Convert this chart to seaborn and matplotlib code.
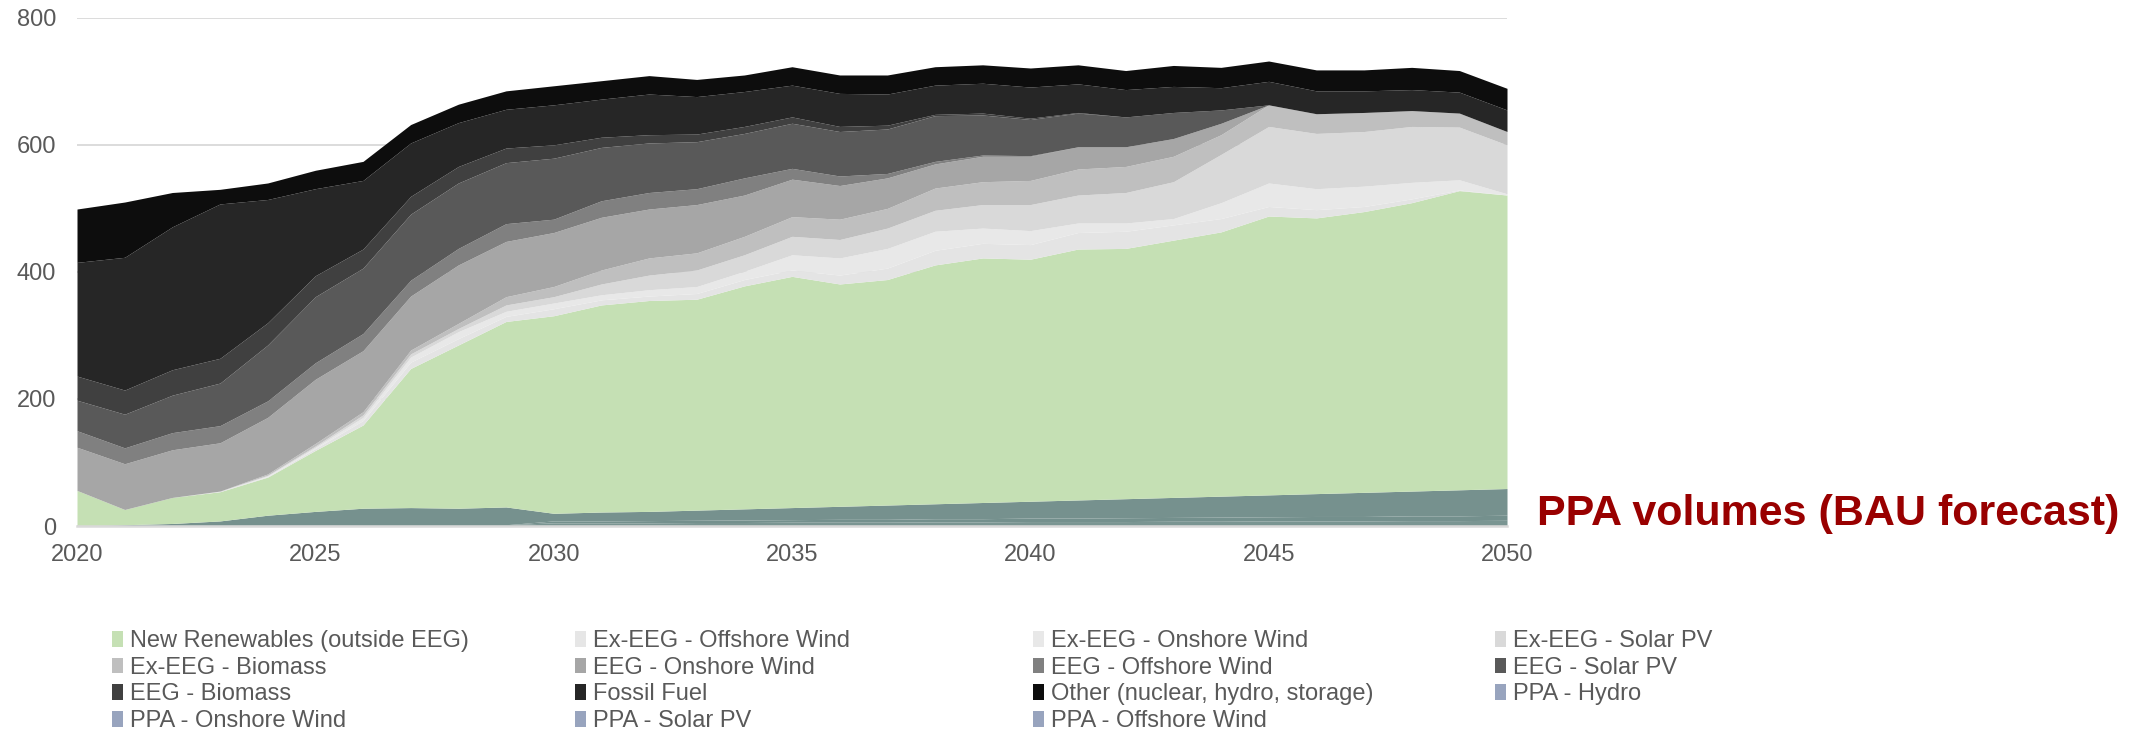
import matplotlib
matplotlib.use("Agg")
import matplotlib.pyplot as plt
from matplotlib.patches import Patch
import seaborn as sns

years = list(range(2020, 2051))

# TWh per year (bottom of the stack first)
ppa_hydro = [0, 0.5, 1, 1, 1.5, 1.5, 2, 2, 2, 2, 2, 2, 2, 2, 2, 2, 2, 2, 2, 2, 2, 2, 2, 2, 2, 2, 2, 2, 2, 2, 2]
ppa_solar = [0, 0, 0, 0, 0, 0, 0, 0, 0, 0, 3, 3, 3, 3.5, 3.5, 4, 4, 4, 4.5, 4.5, 5, 5, 5, 5.5, 5.5, 6, 6, 6, 6.5, 6.5, 7]
ppa_offshore = [0, 0, 0, 0, 0, 0, 0, 0, 0, 0, 3, 3, 3.5, 3.5, 4, 4, 4.5, 4.5, 5, 5, 5.5, 5.5, 6, 6, 6.5, 6.5, 7, 7, 7.5, 7.5, 8]
ppa_onshore = [0, 1.5, 3, 7, 15.5, 21.5, 26, 27, 26, 28, 12, 14, 14.5, 16, 17.5, 19, 20.5, 22.5, 23.5, 25.5,
               26.5, 28.5, 30, 31.5, 33, 34.5, 36, 38, 39, 41, 42]
new_renewables = [56, 24, 41, 46, 60, 96, 131, 219, 257, 292, 311, 326, 332, 332, 351, 364, 350, 355, 376, 385,
                  381, 395, 394, 405, 416, 439, 434, 442, 454, 471, 462]
ex_offshore = [0, 0, 0, 1, 1, 3, 7, 10, 10, 8, 11, 8, 7, 9, 10, 10, 14, 18, 23, 23, 23, 26, 27, 24, 21, 15, 13, 8, 6, 1, 0]
ex_onshore = [0, 0, 0, 0, 1, 2, 5, 8, 11, 8, 9, 8, 10, 11, 13, 24, 27, 31, 30, 24, 22, 15, 13, 10, 25, 37, 33, 32, 26, 16, 2]
ex_solar = [0, 0, 0, 0, 1, 2, 4, 5, 5, 10, 10, 17, 23, 26, 26, 29, 29, 32, 33, 37, 41, 44, 48, 58, 76, 89, 87, 86, 88, 83, 77]
ex_biomass = [0, 0, 0, 0, 2, 4, 5, 6, 8, 13, 16, 22, 27, 27, 29, 31, 32, 31, 35, 36, 38, 41, 41, 40, 31, 34, 31, 30, 25, 22, 21]
eeg_onshore = [68, 72, 75, 76, 89, 101, 96, 85, 92, 87, 85, 83, 77, 76, 65, 59, 53, 48, 38, 40, 38, 35, 31, 28, 18,
               0, 0, 0, 0, 0, 0]
eeg_offshore = [26, 25, 27, 27, 26, 26, 27, 25, 26, 28, 21, 26, 26, 25, 27, 17, 15, 7, 4, 2, 1, 0, 0, 0, 0, 0, 0, 0, 0, 0, 0]
eeg_solar = [48, 53, 59, 67, 88, 104, 103, 104, 103, 96, 96, 84, 78, 74, 70, 71, 70, 70, 72, 63, 57, 53, 47, 41, 21,
             0, 0, 0, 0, 0, 0]
eeg_biomass = [38, 38, 40, 39, 35, 33, 30, 28, 26, 23, 21, 16, 13, 12, 11, 10, 8, 6, 2, 3, 2, 1, 0, 0, 0, 0, 0, 0, 0, 0, 0]
fossil = [179, 209, 225, 243, 194, 137, 108, 84, 69, 61, 63, 60, 64, 59, 55, 50, 52, 49, 46, 47, 49, 45, 43, 41, 35,
          37, 36, 34, 33, 33, 34]
other = [84, 87, 54, 23, 26, 29, 30, 29, 29, 29, 30, 29, 29, 27, 26, 29, 29, 30, 29, 29, 30, 30, 30, 33, 32, 32, 33,
         33, 35, 34, 34]

stack = [ppa_hydro, ppa_solar, ppa_offshore, ppa_onshore, new_renewables,
         ex_offshore, ex_onshore, ex_solar, ex_biomass,
         eeg_onshore, eeg_offshore, eeg_solar, eeg_biomass, fossil, other]
stack_colors = ["#78928F", "#7A9592", "#74908D", "#76918E", "#C5E0B4",
                "#E4E4E4", "#E8E8E8", "#D9D9D9", "#BFBFBF",
                "#A6A6A6", "#808080", "#595959", "#404040", "#262626", "#0D0D0D"]

# legend in the reference's row order
legend_labels = ["New Renewables (outside EEG)", "Ex-EEG - Offshore Wind", "Ex-EEG - Onshore Wind", "Ex-EEG - Solar PV",
                 "Ex-EEG - Biomass", "EEG - Onshore Wind", "EEG - Offshore Wind", "EEG - Solar PV",
                 "EEG - Biomass", "Fossil Fuel", "Other (nuclear, hydro, storage)", "PPA - Hydro",
                 "PPA - Onshore Wind", "PPA - Solar PV", "PPA - Offshore Wind"]
legend_colors = ["#C5E0B4", "#E6E6E6", "#E8E8E8", "#D9D9D9",
                 "#BFBFBF", "#A6A6A6", "#808080", "#595959",
                 "#404040", "#262626", "#0D0D0D", "#98A4BE",
                 "#98A4BE", "#98A4BE", "#98A4BE"]

sns.set_theme(style="white")
plt.rcParams["font.family"] = ["Liberation Sans", "DejaVu Sans"]

fig = plt.figure(figsize=(21.42, 7.33), dpi=100)
ax = fig.add_axes([0.03595, 0.2824, 0.6676, 0.6933])

ax.stackplot(years, *stack, colors=stack_colors, linewidth=0, zorder=2)

ax.set_xlim(2020, 2050)
ax.set_ylim(0, 800)
ax.set_xticks(range(2020, 2051, 5))
ax.set_yticks(range(0, 801, 200))
ax.grid(axis="y", color="#D9D9D9", linewidth=1.3, zorder=0)
ax.grid(axis="x", visible=False)
for side in ["left", "right", "top"]:
    ax.spines[side].set_visible(False)
ax.spines["bottom"].set_color("#D9D9D9")
ax.spines["bottom"].set_linewidth(1.8)
ax.spines["bottom"].set_zorder(3)
ax.tick_params(axis="both", length=0, labelsize=17, labelcolor="#595959")
ax.tick_params(axis="x", pad=13)
ax.tick_params(axis="y", pad=15)

fig.text(0.7176, 0.2838, "PPA volumes (BAU forecast)", fontsize=31, fontweight="bold",
         color="#990000", va="baseline", ha="left")

# four legend columns with equal spacing, filled row by row
col_x = [112, 575, 1033, 1495]
for c in range(4):
    idx = list(range(c, len(legend_labels), 4))
    handles = [Patch(facecolor=legend_colors[i], edgecolor="none") for i in idx]
    labels = [legend_labels[i] for i in idx]
    fig.legend(handles, labels, loc="upper left", bbox_to_anchor=(col_x[c] / 2142, 0.1405),
               frameon=False, fontsize=17, labelcolor="#595959", borderpad=0, borderaxespad=0,
               handlelength=0.45, handleheight=0.65, handletextpad=0.3, labelspacing=0.2)

fig.savefig("out.png", dpi=100)
